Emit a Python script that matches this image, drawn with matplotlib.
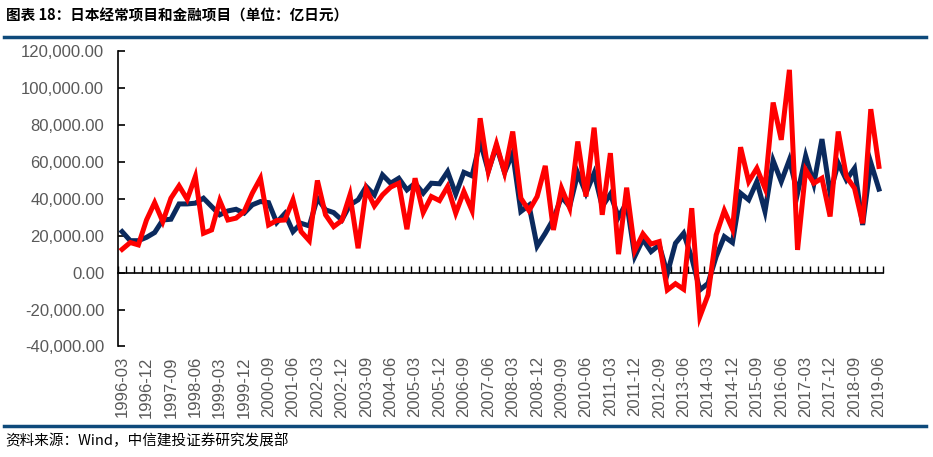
import numpy as np
import matplotlib
matplotlib.use('Agg')
import matplotlib.pyplot as plt
from matplotlib.ticker import FuncFormatter

plt.rcParams['font.family'] = ['Liberation Sans', 'Noto Sans CJK SC', 'DejaVu Sans']

# quarterly labels 1996-03 .. 2019-06
quarters = [f'{y}-{m:02d}' for y in range(1996, 2020) for m in (3, 6, 9, 12)]
quarters = quarters[:quarters.index('2019-06') + 1]

# 经常项目 (navy), 亿日元
current_account = [
    22200, 17300, 17300, 19100, 21700, 28500, 28900, 37200, 37200, 37600,
    40300, 35800, 31300, 33400, 34300, 32200, 36700, 38500, 37900, 27100,
    32000, 22200, 26700, 25300, 40300, 34000, 32500, 28500, 36700, 39400,
    46600, 42100, 52900, 48400, 51100, 44800, 48400, 43000, 48400, 48100,
    54700, 42500, 54300, 52400, 71000, 55000, 68500, 54200, 64700, 33100,
    36500, 14300, 21300, 29000, 41000, 35800, 53800, 43000, 53800, 35800,
    42500, 30000, 38000, 8800, 18000, 11400, 15000, -500, 15900, 21300,
    8000, -9400, -5800, 8700, 19500, 16300, 43000, 39400, 49300, 33100,
    60700, 49300, 61100, 43000, 63200, 48100, 72300, 43000, 59300, 50200,
    56500, 25800, 59600, 45200,
]

# 金融项目 (red), 亿日元
financial_account = [
    12600, 16300, 15000, 28500, 37900, 27600, 40300, 47000, 39700, 52000,
    21300, 23100, 39000, 28500, 29500, 33100, 43000, 51100, 25800, 28200,
    28500, 39400, 22200, 17300, 49900, 31300, 24900, 28200, 42100, 13200,
    45200, 36100, 42100, 46300, 48400, 23500, 51100, 32500, 41200, 39000,
    46600, 32200, 43900, 33600, 83600, 54700, 69700, 54200, 76400, 40300,
    33600, 41200, 57800, 23100, 45700, 35000, 71000, 41200, 78500, 31300,
    64700, 10000, 46000, 12000, 21000, 15500, 16800, -9400, -6000, -9000,
    34900, -23800, -12100, 20400, 33600, 23500, 67900, 49300, 56500, 45700,
    92100, 71900, 109800, 12300, 55600, 48400, 51100, 30400, 76400, 52000,
    45700, 26700, 88500, 57500,
]

y_min, y_max, y_step = -40000, 120000, 20000
label_every = 3

navy = '#0b2a5e'
red = '#ff0000'
gray = '#595959'
rule_blue = '#0e4a7b'

x = np.arange(len(quarters))

fig = plt.figure(figsize=(9.33, 4.57), dpi=100)
ax = fig.add_axes([0.1265, 0.2418, 0.8199, 0.6466])

ax.plot(x, current_account, color=navy, lw=3.6, solid_joinstyle='miter', zorder=3)
ax.plot(x, financial_account, color=red, lw=3.6, solid_joinstyle='miter', zorder=4)

ax.set_xlim(-0.5, len(quarters) - 0.5)
ax.set_ylim(y_min, y_max)
ax.set_yticks(np.arange(y_min, y_max + 1, y_step))
ax.yaxis.set_major_formatter(FuncFormatter(lambda v, p: f'{v:,.2f}'))
ax.tick_params(axis='y', direction='in', length=5, width=1.2, pad=10,
               labelsize=12, labelcolor=gray)

ax.set_xticks(x[::label_every])
ax.set_xticklabels(quarters[::label_every], rotation=90)
ax.tick_params(axis='x', length=0, pad=7, labelsize=12, labelcolor=gray)

for side in ('top', 'right', 'bottom'):
    ax.spines[side].set_visible(False)
ax.spines['left'].set_linewidth(1.2)

# zero line with small category ticks
zero_pos = (0 - y_min) / (y_max - y_min)
sec = ax.secondary_xaxis(zero_pos)
sec.set_xticks(np.arange(len(quarters) + 1) - 0.5)
sec.tick_params(direction='in', length=5, width=1.0, labelbottom=False)
sec.spines['bottom'].set_linewidth(1.2)

# title, rules and source
fig.text(0.006, 0.965, '图表 18：日本经常项目和金融项目（单位：亿日元）',
         fontsize=10.5, fontweight='bold', va='center', ha='left',
         family=['Noto Sans CJK SC', 'DejaVu Sans'])
fig.add_artist(plt.Line2D([0.004, 0.992], [0.919, 0.919], color=rule_blue, lw=2.5))
fig.add_artist(plt.Line2D([0.004, 0.992], [0.068, 0.068], color=rule_blue, lw=2.5))
fig.text(0.006, 0.035, '资料来源：Wind，中信建投证券研究发展部',
         fontsize=10.5, va='center', ha='left',
         family=['Noto Sans CJK SC', 'DejaVu Sans'])

fig.savefig('out.png', dpi=100)
